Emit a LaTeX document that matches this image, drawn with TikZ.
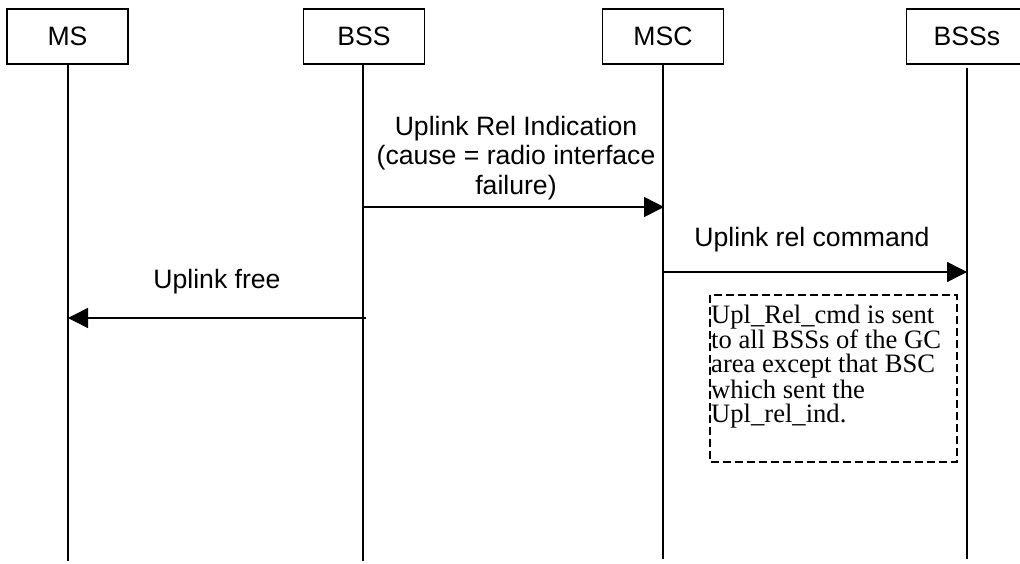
\documentclass[tikz,border=0pt]{standalone}
\usepackage{fontspec}
\setmainfont{Liberation Serif}
\setsansfont{Liberation Sans}
\usetikzlibrary{arrows.meta}

\begin{document}
\begin{tikzpicture}[x=1pt,y=-1pt,
  entity/.style={draw,line width=1.5pt,minimum width=121pt,minimum height=55pt,inner sep=0pt,font=\sffamily\fontsize{26.6}{29.5}\selectfont},
  life/.style={line width=1.5pt},
  msg/.style={line width=1.5pt,-{Triangle[length=20pt,width=20pt]}},
  lbl/.style={font=\sffamily\fontsize{26.6}{29.5}\selectfont,align=center,inner sep=0pt,anchor=base},
  note/.style={font=\rmfamily\fontsize{26.6}{24}\selectfont,align=left,inner sep=0pt,anchor=base west}]
\useasboundingbox (0,0) rectangle (1020,563);
\node[entity] (ms) at (67.5,36.5) {MS};
\node[entity] (bss) at (364,36.5) {BSS};
\node[entity] (msc) at (663,36.5) {MSC};
\node[entity] (bsss) at (967,36.5) {BSSs};
\coordinate (msend) at (68,561);
\coordinate (bssend) at (363,561);
\coordinate (mscend) at (663,559);
\coordinate (bsssstart) at (967,68);
\coordinate (bsssend) at (967,559);
\draw[life] (ms.south -| msend) -- (msend);
\draw[life] (bss.south -| bssend) -- (bssend);
\draw[life] (msc.south -| mscend) -- (mscend);
\draw[life] (bsssstart) -- (bsssend);
\coordinate (relind1) at (363,207);
\coordinate (relind2) at (664,207);
\coordinate (relcmd1) at (663,272);
\coordinate (relcmd2) at (967,272);
\coordinate (free1) at (366,318);
\coordinate (free2) at (68,318);
\draw[msg] (relind1) -- (relind2);
\draw[msg] (relcmd1) -- (relcmd2);
\draw[msg] (free1) -- (free2);
\node[lbl] (relindlbl) at (516,194) {Uplink Rel Indication\\(cause = radio interface\\failure)};
\node[lbl] (relcmdlbl) at (812,246) {Uplink rel command};
\node[lbl] (freelbl) at (217,288) {Uplink free};
\draw[line width=1.5pt,dash pattern=on 8pt off 4pt] (710,295) rectangle (957,462);
\node[note] (notetxt) at (711,422) {Upl\_Rel\_cmd is sent\\to all BSSs of the GC\\area except that BSC\\which sent the\\Upl\_rel\_ind.};
\end{tikzpicture}
\end{document}
